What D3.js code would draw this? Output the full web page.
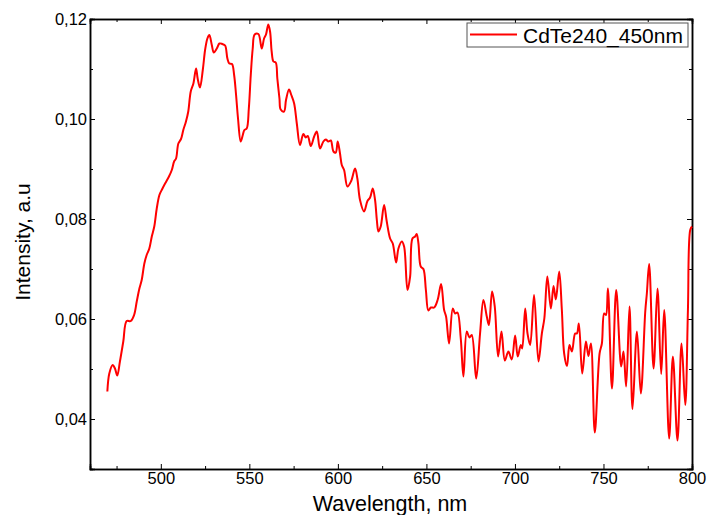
<!DOCTYPE html>
<html>
<head>
<meta charset="utf-8">
<script src="https://cdn.jsdelivr.net/npm/d3@7"></script>
<style>
  body { margin: 0; background: #fff; }
  text { font-family: "Liberation Sans", Arial, sans-serif; }
</style>
</head>
<body>
<script>
// wavelength (nm) and intensity
const wavelength = [469.8,470.9,472.8,474.1,475.4,476.9,478.8,480.7,483.0,484.9,486.4,487.9,489.2,490.7,492.0,493.5,494.9,496.3,497.7,499.2,
  500.8,502.4,504.6,506.2,507.5,508.6,509.9,511.4,512.7,514.2,515.5,516.9,518.4,519.9,520.8,522.1,523.7,525.0,526.3,527.4,
  528.8,529.9,531.6,533.1,534.7,536.3,537.6,538.7,540.2,541.4,542.5,543.6,545.1,546.3,547.2,548.5,549.7,550.8,551.9,553.0,
  555.1,557.0,558.3,559.4,560.7,561.7,562.6,563.6,564.9,565.8,567.0,567.7,569.6,570.7,572.4,573.7,575.3,576.8,578.6,580.5,
  581.9,583.0,584.7,586.6,588.1,589.9,591.8,593.2,594.6,596.0,597.5,598.8,599.9,601.2,602.2,603.5,605.4,607.5,609.7,611.0,
  612.5,614.8,616.7,618.2,619.7,621.0,622.0,622.9,624.2,626.1,627.6,629.5,631.0,632.9,634.2,636.1,637.4,639.3,640.8,642.1,
  643.6,644.5,645.5,646.8,648.3,649.7,651.1,652.5,654.4,656.4,658.3,660.0,661.1,662.8,664.9,666.2,667.5,669.4,670.9,672.8,
  674.3,675.6,678.1,680.3,682.2,684.1,685.3,687.1,688.6,690.5,692.4,694.3,696.3,698.2,700.1,701.6,703.3,704.1,705.8,707.1,
  708.6,710.8,713.3,715.2,716.6,718.3,720.3,721.8,723.1,725.0,726.5,727.8,729.4,730.8,732.2,734.0,735.0,736.1,738.0,740.1,
  741.5,742.9,745.1,747.8,749.1,750.4,751.4,752.5,754.8,757.2,760.0,761.3,762.8,764.7,766.4,768.9,771.1,773.6,774.5,775.8,
  778.3,780.5,782.6,784.3,787.1,789.2,791.8,794.1,796.2,797.7,799.0,800.0];
const intensity = [0.0455,0.0491,0.0508,0.0501,0.0487,0.0515,0.0555,0.0596,0.0596,0.0608,0.0635,0.0661,0.0678,0.0711,0.0728,0.0741,0.0765,0.0785,0.0821,0.0848,
  0.0860,0.0871,0.0885,0.0898,0.0915,0.0921,0.0951,0.0960,0.0978,0.0995,0.1015,0.1055,0.1071,0.1101,0.1081,0.1063,0.1098,0.1138,0.1161,0.1168,
  0.1148,0.1133,0.1141,0.1151,0.1150,0.1147,0.1121,0.1111,0.1110,0.1088,0.1048,0.1001,0.0955,0.0968,0.0978,0.0981,0.1021,0.1088,0.1141,0.1169,
  0.1170,0.1141,0.1161,0.1169,0.1189,0.1175,0.1135,0.1115,0.1113,0.1081,0.1041,0.1019,0.1015,0.1038,0.1059,0.1048,0.1031,0.0991,0.0948,0.0970,
  0.0963,0.0966,0.0946,0.0965,0.0975,0.0941,0.0955,0.0959,0.0955,0.0957,0.0935,0.0933,0.0955,0.0931,0.0908,0.0898,0.0865,0.0876,0.0901,0.0881,
  0.0838,0.0815,0.0836,0.0843,0.0861,0.0838,0.0798,0.0775,0.0785,0.0828,0.0795,0.0761,0.0751,0.0713,0.0741,0.0755,0.0745,0.0658,0.0685,0.0761,
  0.0765,0.0770,0.0751,0.0705,0.0700,0.0658,0.0617,0.0623,0.0623,0.0639,0.0670,0.0618,0.0605,0.0551,0.0621,0.0611,0.0613,0.0561,0.0485,0.0575,
  0.0563,0.0568,0.0481,0.0571,0.0638,0.0605,0.0588,0.0655,0.0625,0.0525,0.0575,0.0517,0.0535,0.0519,0.0567,0.0525,0.0548,0.0541,0.0621,0.0571,
  0.0548,0.0648,0.0515,0.0571,0.0601,0.0685,0.0621,0.0666,0.0639,0.0695,0.0618,0.0531,0.0506,0.0548,0.0535,0.0571,0.0571,0.0591,0.0491,0.0555,
  0.0526,0.0551,0.0373,0.0531,0.0551,0.0611,0.0608,0.0661,0.0461,0.0658,0.0505,0.0535,0.0465,0.0625,0.0420,0.0575,0.0451,0.0615,0.0651,0.0710,
  0.0501,0.0661,0.0490,0.0618,0.0361,0.0525,0.0357,0.0551,0.0428,0.0618,0.0778,0.0785];

const xMajor = [500, 550, 600, 650, 700, 750, 800];
const xMinor = [475, 525, 575, 625, 675, 725, 775];
const yMajor = [0.04, 0.06, 0.08, 0.10, 0.12];
const yMinor = [0.03, 0.05, 0.07, 0.09, 0.11];
const seriesName = "CdTe240_450nm";

const width = 707, height = 515;
const margin = { left: 90, right: 15, top: 19, bottom: 46 };
const iw = width - margin.left - margin.right;
const ih = height - margin.top - margin.bottom;

const x = d3.scaleLinear().domain([460, 800]).range([0, iw]);
const y = d3.scaleLinear().domain([0.03, 0.12]).range([ih, 0]);

const svg = d3.select("body").append("svg")
  .attr("width", width).attr("height", height);

const g = svg.append("g").attr("transform", `translate(${margin.left},${margin.top})`);

const fmt = d => d3.format(".2f")(d).replace(".", ",");

// minor ticks first, then major with labels
function axes() {
  g.append("g").attr("transform", `translate(0,${ih})`)
    .call(d3.axisBottom(x).tickValues(xMinor).tickSize(-3).tickFormat(""));
  g.append("g").attr("transform", `translate(0,${ih})`)
    .call(d3.axisBottom(x).tickValues(xMajor).tickSize(-5).tickPadding(3).tickFormat(d3.format("d")));
  g.append("g").call(d3.axisTop(x).tickValues(xMinor).tickSize(-3).tickFormat(""));
  g.append("g").call(d3.axisTop(x).tickValues(xMajor).tickSize(-5).tickFormat(""));

  g.append("g").call(d3.axisLeft(y).tickValues(yMinor).tickSize(-3).tickFormat(""));
  g.append("g").call(d3.axisLeft(y).tickValues(yMajor).tickSize(-5).tickPadding(3).tickFormat(fmt));
  g.append("g").attr("transform", `translate(${iw},0)`)
    .call(d3.axisRight(y).tickValues(yMinor).tickSize(-3).tickFormat(""));
  g.append("g").attr("transform", `translate(${iw},0)`)
    .call(d3.axisRight(y).tickValues(yMajor).tickSize(-5).tickFormat(""));
}
axes();

g.selectAll(".domain").attr("stroke", "#000").attr("stroke-width", 1.5);
g.selectAll(".tick line").attr("stroke", "#000").attr("stroke-width", 1);
g.selectAll(".tick text").attr("font-size", 16.5).attr("fill", "#000")
  .attr("font-family", "'Liberation Sans', Arial, sans-serif");

const pts = wavelength.map((w, i) => [w, intensity[i]]);

g.append("path")
  .datum(pts)
  .attr("fill", "none")
  .attr("stroke", "#ff0000")
  .attr("stroke-width", 2)
  .attr("d", d3.line().x(d => x(d[0])).y(d => y(d[1])).curve(d3.curveCatmullRom.alpha(0.5)));

// axis titles
svg.append("text")
  .attr("x", 390).attr("y", 511)
  .attr("text-anchor", "middle").attr("font-size", 21.5)
  .text("Wavelength, nm");

svg.append("text")
  .attr("transform", "translate(30,242) rotate(-90)")
  .attr("text-anchor", "middle").attr("font-size", 21)
  .text("Intensity, a.u");

// legend
const lg = svg.append("g").attr("transform", "translate(467,23)");
lg.append("rect").attr("width", 221).attr("height", 24)
  .attr("fill", "#fff").attr("stroke", "#555").attr("stroke-width", 1);
lg.append("line").attr("x1", 3).attr("x2", 50).attr("y1", 11.5).attr("y2", 11.5)
  .attr("stroke", "#ff0000").attr("stroke-width", 2);
lg.append("text").attr("x", 56).attr("y", 19.5).attr("font-size", 21).text(seriesName);
</script>
</body>
</html>
